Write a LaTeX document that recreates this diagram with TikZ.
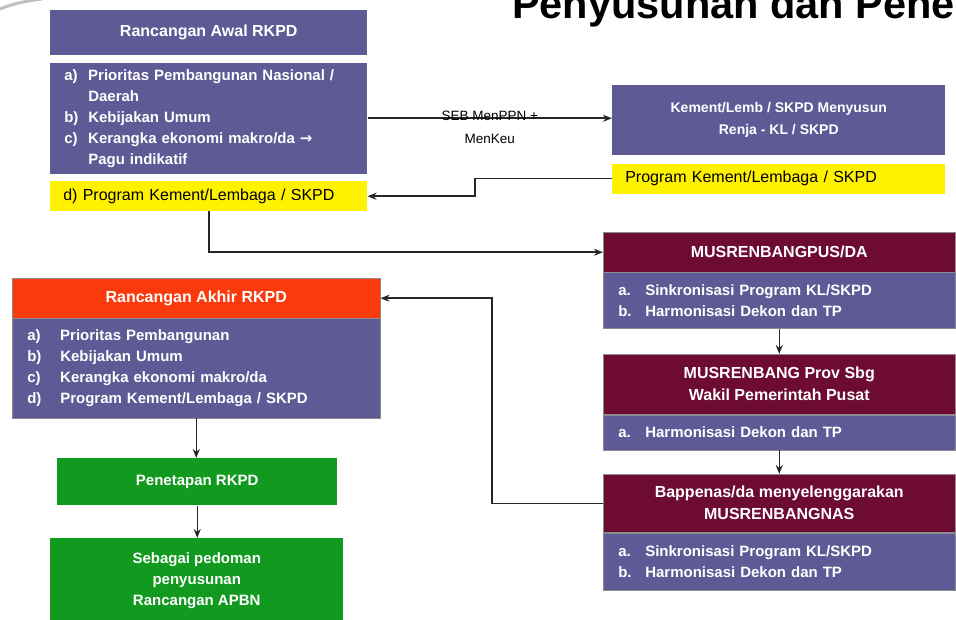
\documentclass[tikz,border=0pt]{standalone}
\usepackage{fontspec}
\setmainfont{Liberation Sans}
\newfontfamily\symfont{DejaVu Sans}
\usetikzlibrary{arrows.meta,positioning}
\definecolor{slate}{HTML}{5E5A96}
\definecolor{maroon}{HTML}{6E0B32}
\definecolor{akhirred}{HTML}{FA3A0C}
\definecolor{leaf}{HTML}{12991F}
\newcommand{\itm}[2][24pt]{\makebox[#1][l]{#2}}

\begin{document}
\begin{tikzpicture}[x=1pt, y=-1pt,
    every node/.style={font=\fontsize{15}{21}\selectfont\bfseries, text=white, inner ysep=0pt},
    box/.style={draw=black!45, line width=0.5pt, inner xsep=6pt, align=center},
    hdr/.style={box, fill=slate, font=\fontsize{16}{22}\selectfont\bfseries},
    lst/.style={box, fill=slate, align=left, inner xsep=14pt},
    mus/.style={box, fill=maroon, font=\fontsize{16}{22}\selectfont\bfseries},
    ylw/.style={box, fill=yellow, draw=none, align=left, text=black,
        font=\fontsize{16}{20}\selectfont, inner xsep=13pt},
    grn/.style={box, fill=leaf, draw=none},
    arr/.style={-{Stealth[length=9pt,width=7pt]}, line width=1.5pt, black!85},
    lbl/.style={text=black, font=\fontsize{13.5}{23}\selectfont, align=center}]
\useasboundingbox (0,0) rectangle (956,620);
\draw[black!25, line width=3pt] (0,9) .. controls (12,4) and (25,1) .. (42,-1);
\node[anchor=base west, inner sep=0pt, text=black,
    font=\fontsize{41.5}{42}\selectfont\bfseries] (title) at (512,19) {Penyusunan dan Pene};

% left column, top
\node[hdr, draw=none, anchor=north west, minimum width=317, minimum height=45] (awal) at (50,10)
    {Rancangan Awal RKPD};
\node[lst, draw=none, below=7pt of awal, minimum width=317, minimum height=111, text width=289]
    (awalbody) {\itm{a)}Prioritas Pembangunan Nasional /\\
    \itm{}Daerah\\
    \itm{b)}Kebijakan Umum\\
    \itm{c)}Kerangka ekonomi makro/da {\symfont\bfseries →}\\
    \itm{}Pagu indikatif};
\node[ylw, below=7pt of awalbody, minimum width=317, minimum height=30, text width=291]
    (progl) {d) Program Kement/Lembaga / SKPD};

% right, top
\node[hdr, draw=none, anchor=north west, minimum width=333, minimum height=70,
    font=\fontsize{14}{22}\selectfont\bfseries] (kement) at (612,85)
    {Kement/Lemb / SKPD Menyusun\\Renja - KL / SKPD};
\node[ylw, below=8pt of kement, minimum width=333, minimum height=30, text width=307]
    (progr) {Program Kement/Lembaga / SKPD};

% right column
\node[mus, anchor=north west, minimum width=352, minimum height=40] (pusda) at (603,232)
    {MUSRENBANGPUS/DA};
\node[lst, below=0pt of pusda, minimum width=352, minimum height=56, text width=322,
    inner xsep=15pt] (pusdabody)
    {\itm[27pt]{a.}Sinkronisasi Program KL/SKPD\\\itm[27pt]{b.}Harmonisasi Dekon dan TP};
\node[mus, below=25pt of pusdabody, minimum width=352, minimum height=60] (prov)
    {MUSRENBANG Prov Sbg\\Wakil Pemerintah Pusat};
\node[lst, below=0pt of prov, minimum width=352, minimum height=35, text width=322,
    inner xsep=15pt] (provbody)
    {\itm[27pt]{a.}Harmonisasi Dekon dan TP};
\node[mus, below=24pt of provbody, minimum width=352, minimum height=58] (nas)
    {Bappenas/da menyelenggarakan\\MUSRENBANGNAS};
\node[lst, below=0pt of nas, minimum width=352, minimum height=57, text width=322,
    inner xsep=15pt] (nasbody)
    {\itm[27pt]{a.}Sinkronisasi Program KL/SKPD\\\itm[27pt]{b.}Harmonisasi Dekon dan TP};

% left column, bottom
\node[hdr, fill=akhirred, anchor=north west, minimum width=368, minimum height=40] (akhir) at (12,278)
    {Rancangan Akhir RKPD};
\node[lst, below=0pt of akhir, minimum width=368, minimum height=99, text width=338,
    inner xsep=15pt] (akhirbody)
    {\itm[33pt]{a)}Prioritas Pembangunan\\
    \itm[33pt]{b)}Kebijakan Umum\\
    \itm[33pt]{c)}Kerangka ekonomi makro/da\\
    \itm[33pt]{d)}Program Kement/Lembaga / SKPD};
\node[grn, anchor=north west, minimum width=280, minimum height=47] (tetap) at (57,458)
    {Penetapan RKPD};
\node[grn, anchor=north west, minimum width=293, minimum height=84] (pedoman) at (50,538)
    {Sebagai pedoman\\penyusunan\\Rancangan APBN};

\draw[arr] (awalbody.east) -- (awalbody.east -| kement.west)
    node[lbl, midway, yshift=-9pt] {SEB MenPPN +\\MenKeu};
\draw[arr] (progr.west) -- ++(-137,0) |- (progl.east);
\draw[arr] (progl.south) |- (pusda.west);
\draw[arr] (pusdabody.south) -- (prov.north);
\draw[arr] (provbody.south) -- (nas.north);
\draw[arr] (nas.west) -- ++(-111,0) |- (akhir.east);
\draw[arr] (akhirbody.south) -- (akhirbody.south |- tetap.north);
\draw[arr] (tetap.south) -- (tetap.south |- pedoman.north);
\end{tikzpicture}
\end{document}
